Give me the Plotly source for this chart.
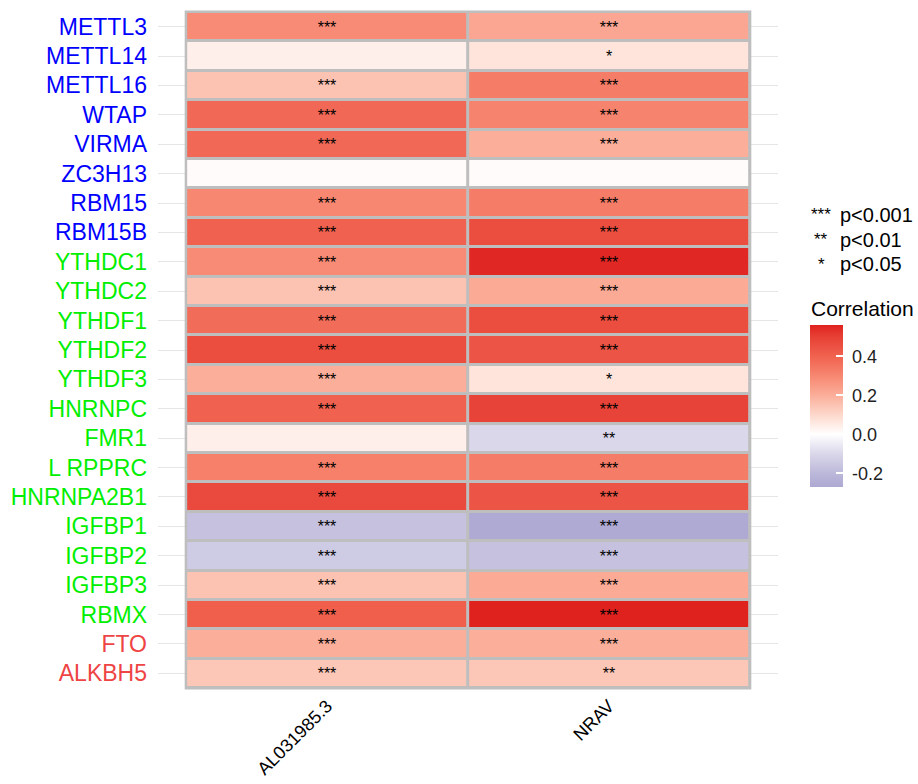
import plotly.graph_objects as go

genes = ["METTL3", "METTL14", "METTL16", "WTAP", "VIRMA", "ZC3H13", "RBM15", "RBM15B",
         "YTHDC1", "YTHDC2", "YTHDF1", "YTHDF2", "YTHDF3", "HNRNPC", "FMR1", "L RPPRC",
         "HNRNPA2B1", "IGFBP1", "IGFBP2", "IGFBP3", "RBMX", "FTO", "ALKBH5"]
gene_colors = ["#0000FF"] * 8 + ["#00EE00"] * 13 + ["#EE4444"] * 2
lncrnas = ["AL031985.3", "NRAV"]

corr_al = [0.29, 0.04, 0.15, 0.38, 0.38, 0.01, 0.30, 0.40, 0.29, 0.15, 0.37, 0.46,
           0.20, 0.40, 0.04, 0.32, 0.47, -0.17, -0.14, 0.15, 0.41, 0.20, 0.14]
corr_nrav = [0.22, 0.07, 0.33, 0.31, 0.20, 0.01, 0.33, 0.46, 0.55, 0.21, 0.46, 0.44,
             0.07, 0.49, -0.10, 0.33, 0.44, -0.26, -0.17, 0.21, 0.56, 0.20, 0.14]
sig_al = ["***", "", "***", "***", "***", "", "***", "***", "***", "***", "***", "***",
          "***", "***", "", "***", "***", "***", "***", "***", "***", "***", "***"]
sig_nrav = ["***", "*", "***", "***", "***", "", "***", "***", "***", "***", "***", "***",
            "*", "***", "**", "***", "***", "***", "***", "***", "***", "***", "**"]

legend_stars = ["***", "**", "*"]
legend_labels = ["p<0.001", "p<0.01", "p<0.05"]
cbar_ticks = [-0.2, 0.0, 0.2, 0.4]
cbar_ticktext = ["-0.2", "0.0", "0.2", "0.4"]

zmin, zmax = -0.27, 0.56
stops = [(-0.27, "#aca8d2"), (-0.2, "#bcb8da"), (-0.1, "#dad7ea"), (0.0, "#ffffff"),
         (0.1, "#fdd8cb"), (0.2, "#fbae9a"), (0.3, "#f78771"), (0.4, "#f0624f"),
         (0.5, "#e74035"), (0.56, "#e0221f")]
colorscale = [[(v - zmin) / (zmax - zmin), c] for v, c in stops]

n = len(genes)
z = [[corr_al[i], corr_nrav[i]] for i in range(n)]
txt = [[sig_al[i], sig_nrav[i]] for i in range(n)]

L, R, T, B = 158, 140, 9, 93
W, H = 918, 784
pw, ph = W - L - R, H - T - B

fig = go.Figure()
fig.add_trace(go.Heatmap(
    z=z, x=list(range(len(lncrnas))), y=list(range(n)),
    text=txt, texttemplate="%{text}", textfont=dict(size=16, color="black", family="Liberation Sans"),
    colorscale=colorscale, zmin=zmin, zmax=zmax, xgap=3, ygap=3,
    hoverinfo="skip",
    colorbar=dict(
        x=(810 - L) / pw, xanchor="left", xpad=0,
        y=(H - B - 406) / ph, yanchor="middle", ypad=0,
        thickness=33, len=162, lenmode="pixels",
        outlinewidth=0, tickvals=cbar_ticks, ticktext=[" " + t for t in cbar_ticktext],
        ticks="inside", ticklen=7, tickcolor="white", tickwidth=1.5,
        tickfont=dict(size=18, color="#222", family="Liberation Sans"),
        title=dict(text=""),
    ),
))

fig.add_shape(type="rect", x0=-0.5, x1=len(lncrnas) - 0.5, y0=-0.5, y1=n - 0.5,
              xref="x", yref="y", fillcolor="#bebebe", line=dict(color="#bebebe", width=3),
              layer="between")

fig.update_xaxes(range=[-0.6, len(lncrnas) - 0.4], tickvals=list(range(len(lncrnas))),
                 ticktext=lncrnas, tickangle=-45, showgrid=False, zeroline=False,
                 tickfont=dict(size=18, color="black", family="Liberation Sans"),
                 ticks="", ticklabelstandoff=0, automargin=False)
fig.update_yaxes(range=[n - 0.4, -0.6], tickvals=list(range(n)),
                 ticktext=[f'<span style="color:{c}">{g}</span>' for g, c in zip(genes, gene_colors)],
                 showgrid=True, gridcolor="#e6e6e6", gridwidth=1, zeroline=False,
                 tickfont=dict(size=23, family="Liberation Sans"), ticks="",
                 ticklabelstandoff=10, automargin=False)

for k, (s, lab) in enumerate(zip(legend_stars, legend_labels)):
    yy = 215 + k * 24.5
    fig.add_annotation(text=s, x=821, y=yy, xref="paper", yref="paper", showarrow=False,
                       xanchor="center", yanchor="middle",
                       font=dict(size=17, color="black", family="Liberation Sans"))
    fig.add_annotation(text=lab, x=838, y=yy, xref="paper", yref="paper", showarrow=False,
                       xanchor="left", yanchor="middle",
                       font=dict(size=20, color="black", family="Liberation Sans"))
fig.add_annotation(text="Correlation", x=809, y=308, xref="paper", yref="paper",
                   showarrow=False, xanchor="left", yanchor="middle",
                   font=dict(size=21, color="black", family="Liberation Sans"))

# convert pixel annotation positions to paper coords
for a in fig.layout.annotations:
    a.x = (a.x - L) / pw
    a.y = (H - B - a.y) / ph

fig.update_layout(width=W, height=H, margin=dict(l=L, r=R, t=T, b=B, autoexpand=False),
                  paper_bgcolor="white", plot_bgcolor="white", showlegend=False,
                  font=dict(family="Liberation Sans"))
fig.write_html("out.html")
